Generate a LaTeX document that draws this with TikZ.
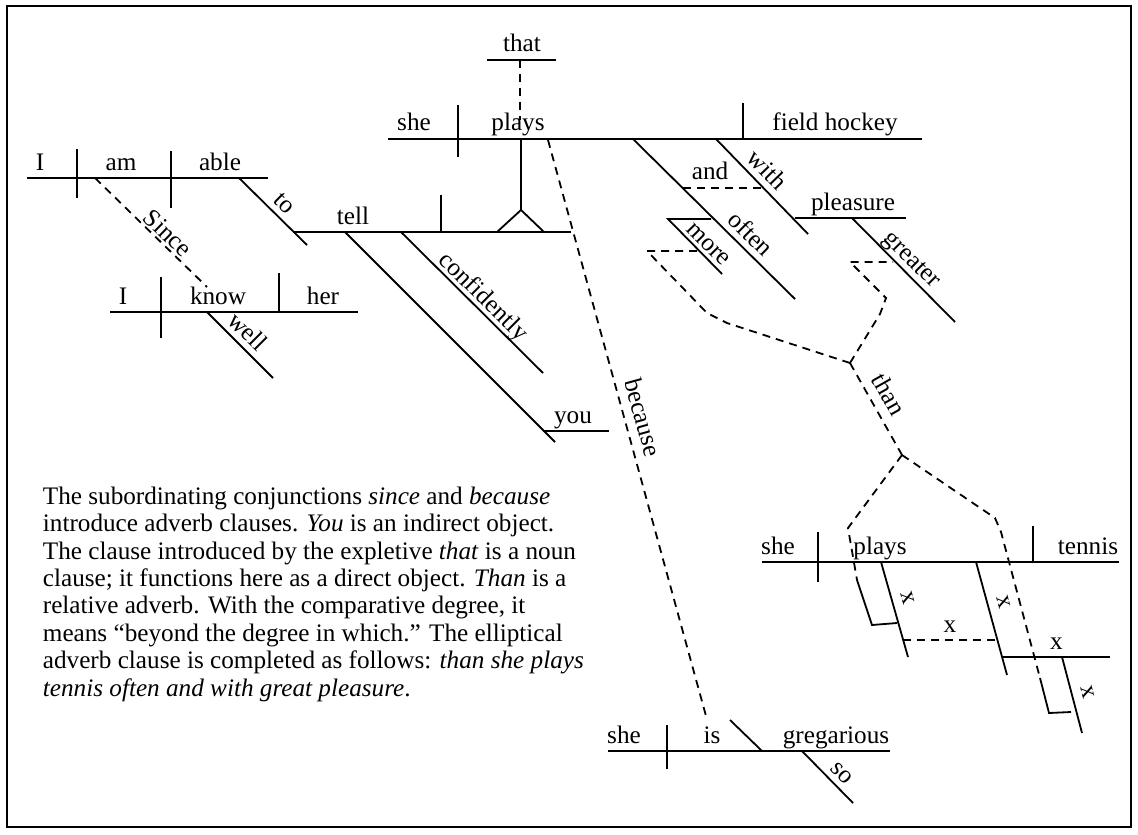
\documentclass[tikz,border=0pt]{standalone}
\usepackage{fontspec}
\setmainfont{Liberation Serif}
\tikzset{
  word/.style={anchor=base, inner sep=0pt},
  slant/.style={sloped, above, inner sep=0pt, outer sep=3.5pt, text depth=0pt},
  link/.style={dash pattern=on 4pt off 3pt},
}
\begin{document}
\begin{tikzpicture}[x=0.5pt, y=-0.5pt, line width=0.9pt, font=\fontsize{12.6}{13.7}\selectfont]
    \useasboundingbox (0,0) rectangle (1138,834);
    \draw[line width=1.1pt] (7,6) rectangle (1131,827);
    % I am able to tell
    \draw (27,178) -- (268,178);
    \draw (77,149) -- (77,198);
    \draw (171,151) -- (171,208);
    \node[word] (i1) at (40,170) {I};
    \node[word] (am) at (121,170) {am};
    \node[word] (able) at (220,170) {able};
    \draw (239,178) -- node[slant, pos=0.53] (to) {to} (307,245);
    \draw (293,232) -- (571,232);
    \draw (441,195) -- (441,232);
    \node[word] (tell) at (353,224) {tell};
    \draw (401,232) -- node[slant, pos=0.52, outer sep=2.5pt] (confidently) {confidently} (543,373);
    \draw (345,232) -- (555,442);
    \draw (543,431) -- (609,431);
    \node[word] (you) at (573,423) {you};
    % Since I know her well
    \draw[link] (95,178) -- node[slant, pos=0.58, outer sep=1.5pt] (since) {Since} (207,287);
    \draw (110,312) -- (358,312);
    \draw (161,277) -- (161,338);
    \draw (279,273) -- (279,312);
    \node[word] (i2) at (123,304) {I};
    \node[word] (know) at (218,304) {know};
    \node[word] (her) at (323,304) {her};
    \draw (207,312) -- node[slant, pos=0.46] (well) {well} (273,378);
    % that she plays field hockey
    \draw (388,139) -- (922,139);
    \draw (458,105) -- (458,157);
    \draw (743,103) -- (743,139);
    \node[word] (she1) at (414,131) {she};
    \node[word] (plays1) at (518,131) {plays};
    \node[word] (hockey) at (835,131) {field hockey};
    \draw (487,60) -- (556,60);
    \node[word] (that) at (522,52) {that};
    \draw[link] (520,60) -- (520,120);
    \draw (521,139) -- (521,210) -- (497,232);
    \draw (521,210) -- (544,232);
    \draw (633,139) -- node[slant, pos=0.66] (often) {often} (795,299);
    \draw (716,139) -- node[slant, pos=0.44] (with) {with} (808,234);
    \draw[link] (683,188) -- (763,188);
    \node[word] (and) at (710,180) {and};
    \draw (795,218) -- (906,218);
    \node[word] (pleasure) at (853,210) {pleasure};
    \draw (852,218) -- node[slant, pos=0.49] (greater) {greater} (955,322);
    \draw (711,219) -- (668,219) -- node[slant, pos=0.6, outer sep=2.5pt] (more) {more} (722,274);
    % than
    \draw[link] (850,363) -- (727,323) -- (707,313) -- (647,251) -- (697,251);
    \draw[link] (850,363) -- (880,314) -- (886,298) -- (850,262) -- (893,262);
    \draw[link] (850,363) -- node[slant, pos=0.44, outer sep=5pt] (than) {than} (902,455);
    \draw[link] (902,455) -- (848,528) -- (857,580);
    \draw (857,580) -- (872,625) -- (897,623);
    \draw[link] (902,455) -- (995,518) -- (1001,532) -- (1040,678);
    \draw (1040,678) -- (1049,713) -- (1071,712);
    % she plays tennis
    \draw (762,562) -- (1119,562);
    \draw (818,532) -- (818,582);
    \draw (1033,526) -- (1033,562);
    \node[word] (she2) at (778,554) {she};
    \node[word] (plays2) at (880,554) {plays};
    \node[word] (tennis) at (1088,554) {tennis};
    \draw (881,562) -- node[slant, pos=0.42, outer sep=5pt] (x1) {x} (908,657);
    \draw (976,562) -- node[slant, pos=0.39, outer sep=5pt] (x2) {x} (1007,675);
    \draw[link] (903,640) -- node[above] (x3) {x} (997,640);
    \draw (1003,657) -- node[above] (x4) {x} (1110,657);
    \draw (1062,657) -- node[slant, pos=0.51, outer sep=5pt] (x5) {x} (1082,733);
    % because she is so gregarious
    \draw[link] (548,140) -- node[slant, pos=0.49, outer sep=5pt] (because) {because} (706,716);
    \draw (608,751) -- (890,751);
    \draw (667,725) -- (667,769);
    \draw (730,720) -- (762,751);
    \node[word] (she3) at (624,743) {she};
    \node[word] (is) at (712,743) {is};
    \node[word] (gregarious) at (836,743) {gregarious};
    \draw (802,751) -- node[slant, pos=0.6] (so) {so} (853,803);
    % note
    \node[anchor=north west, align=left, inner sep=0pt] (note) at (42,486) {The subordinating conjunctions \textit{since} and \textit{because}\\
      introduce adverb clauses. \textit{You} is an indirect object.\\
      The clause introduced by the expletive \textit{that} is a noun\\
      clause; it functions here as a direct object. \textit{Than} is a\\
      relative adverb. With the comparative degree, it\\
      means ``beyond the degree in which.'' The elliptical\\
      adverb clause is completed as follows: \textit{than she plays}\\
      \textit{tennis often and with great pleasure}.};
\end{tikzpicture}
\end{document}
